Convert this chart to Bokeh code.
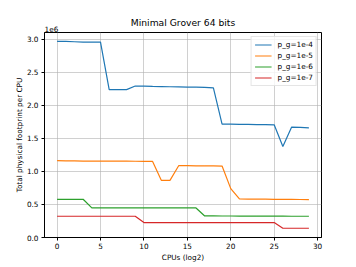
from bokeh.plotting import figure
from bokeh.models import Range1d, FixedTicker, PrintfTickFormatter, Legend, LegendItem, Title
from bokeh.embed import file_html
from bokeh.resources import INLINE

# CPUs (log2)
cpus_log2 = list(range(30))

# Total physical footprint per CPU, in units of 1e6
fp_1e4 = [2.965, 2.965, 2.96, 2.955, 2.955, 2.955, 2.237, 2.237, 2.237, 2.29,
          2.29, 2.285, 2.283, 2.28, 2.278, 2.275, 2.273, 2.27, 2.262, 1.713,
          1.713, 1.712, 1.71, 1.708, 1.706, 1.704, 1.375, 1.668, 1.664, 1.659]
fp_1e5 = [1.161, 1.16, 1.158, 1.155, 1.155, 1.155, 1.155, 1.155, 1.155, 1.153,
          1.152, 1.151, 0.864, 0.864, 1.086, 1.086, 1.084, 1.083, 1.082, 1.08,
          0.739, 0.583, 0.581, 0.58, 0.579, 0.578, 0.577, 0.576, 0.575, 0.574]
fp_1e6 = [0.578, 0.578, 0.578, 0.578, 0.447, 0.447, 0.447, 0.447, 0.447, 0.447,
          0.447, 0.447, 0.447, 0.447, 0.447, 0.447, 0.447, 0.326, 0.326, 0.325,
          0.325, 0.324, 0.324, 0.323, 0.323, 0.322, 0.322, 0.321, 0.321, 0.321]
fp_1e7 = [0.321, 0.321, 0.321, 0.321, 0.321, 0.321, 0.321, 0.321, 0.321, 0.321,
          0.226, 0.226, 0.226, 0.226, 0.226, 0.226, 0.226, 0.226, 0.226, 0.226,
          0.226, 0.226, 0.226, 0.226, 0.226, 0.226, 0.14, 0.14, 0.14, 0.14]

series_names = ["p_g=1e-4", "p_g=1e-5", "p_g=1e-6", "p_g=1e-7"]
series_values = [fp_1e4, fp_1e5, fp_1e6, fp_1e7]
colors = ["#1f77b4", "#ff7f0e", "#2ca02c", "#d62728"]

x_ticks = [0, 5, 10, 15, 20, 25, 30]
y_ticks = [0.0, 0.5, 1.0, 1.5, 2.0, 2.5, 3.0]

FONT = "DejaVu Sans"
SMALL = "7.3px"
TEXT_COLOR = "black"

p = figure(width=356, height=267, output_backend="svg", toolbar_location=None,
           x_range=Range1d(-1.45, 30.45), y_range=Range1d(0, 3.1),
           min_border_left=44, min_border_right=35, min_border_top=32, min_border_bottom=30,
           title=None)

# offset text of the y axis, closest to the frame
p.add_layout(Title(text="1e6", align="left", text_font=FONT, text_font_size=SMALL,
                   text_color=TEXT_COLOR, text_font_style="normal", standoff=2), "above")
# main title, overlapping the offset-text row
p.add_layout(Title(text="Minimal Grover 64 bits", align="center", text_font=FONT,
                   text_font_size="9.2px", text_color=TEXT_COLOR,
                   text_font_style="normal", standoff=-10), "above")

p.outline_line_color = "black"
p.outline_line_width = 1
p.background_fill_color = "white"
p.border_fill_color = "white"

for ax in (p.xaxis[0], p.yaxis[0]):
    ax.axis_line_color = "black"
    ax.major_tick_line_color = "black"
    ax.major_tick_out = 3
    ax.major_tick_in = 0
    ax.minor_tick_line_color = None
    ax.major_label_text_font = FONT
    ax.major_label_text_font_size = SMALL
    ax.major_label_text_color = TEXT_COLOR
    ax.axis_label_text_font = FONT
    ax.axis_label_text_font_size = SMALL
    ax.axis_label_text_color = TEXT_COLOR
    ax.axis_label_text_font_style = "normal"

p.xaxis.major_label_standoff = 2
p.xaxis.axis_label_standoff = 1
p.yaxis.major_label_standoff = 3
p.yaxis.axis_label_standoff = 0

p.xaxis.axis_label = "CPUs (log2)"
p.yaxis.axis_label = "Total physical footprint per CPU"
p.xaxis.ticker = FixedTicker(ticks=x_ticks)
p.yaxis.ticker = FixedTicker(ticks=y_ticks)
p.yaxis.formatter = PrintfTickFormatter(format="%.1f")

p.grid.grid_line_color = "#b0b0b0"
p.grid.grid_line_alpha = 0.6
p.grid.grid_line_width = 1

items = []
for name, vals, c in zip(series_names, series_values, colors):
    r = p.line(cpus_log2, vals, line_color=c, line_width=1.2)
    items.append(LegendItem(label=name, renderers=[r]))

legend = Legend(items=items, location="top_right")
legend.margin = 4
legend.padding = 3
legend.spacing = 2
legend.glyph_width = 17
legend.glyph_height = 9
legend.label_height = 9
legend.label_standoff = 6
legend.label_text_font = FONT
legend.label_text_font_size = SMALL
legend.label_text_color = TEXT_COLOR
legend.border_line_color = "#cccccc"
legend.background_fill_alpha = 0.8
p.add_layout(legend)

open("out.html", "w").write(file_html(p, INLINE))
